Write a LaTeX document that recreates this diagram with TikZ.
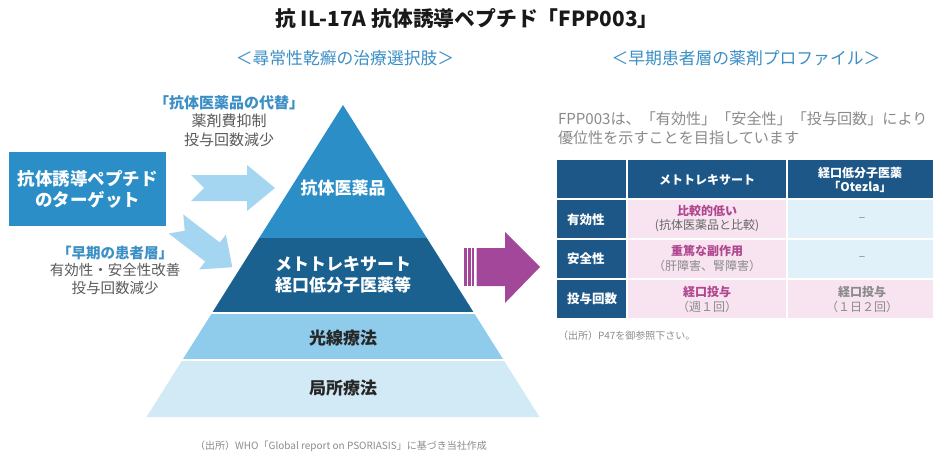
\documentclass[tikz,border=0pt]{standalone}
\usepackage{fontspec}
\setmainfont{Noto Sans CJK JP}
\definecolor{pyrTop}{HTML}{2B8EC6}
\definecolor{pyrDark}{HTML}{1B6190}
\definecolor{pyrLight}{HTML}{8FCBEB}
\definecolor{pyrPale}{HTML}{D2E9F6}
\definecolor{arrBlue}{HTML}{A5D6F1}
\definecolor{accBlue}{HTML}{3B8FC5}
\definecolor{txtGray}{HTML}{5A5A5A}
\definecolor{lightGray}{HTML}{8A8A8A}
\definecolor{tblDark}{HTML}{1D5788}
\definecolor{tblPink}{HTML}{F7E4F0}
\definecolor{tblBlue}{HTML}{E1F1FA}
\definecolor{magText}{HTML}{B0468F}
\definecolor{magArrow}{HTML}{A3479A}
\begin{document}
\begin{tikzpicture}[x=1pt,y=-1pt,
  every node/.style={inner sep=0pt,outer sep=0pt},
  titletxt/.style={font=\fontsize{20.8}{24}\selectfont\bfseries,text=black!90},
  subhead/.style={font=\fontsize{16.8}{20}\selectfont,text=accBlue},
  pyrwhite/.style={font=\fontsize{17}{20.5}\selectfont\bfseries,text=white,align=center},
  pyrdark/.style={font=\fontsize{17}{20.5}\selectfont\bfseries,text=black!85},
  sidelbl/.style={font=\fontsize{15}{18.5}\selectfont,text=txtGray,align=center},
  para/.style={font=\fontsize{15.1}{18.5}\selectfont,text=lightGray,align=left},
  thead/.style={font=\fontsize{12}{14.5}\selectfont\bfseries,text=white,align=center},
  rowlbl/.style={font=\fontsize{12.5}{15}\selectfont\bfseries,text=white},
  cellmag/.style={font=\fontsize{12}{15}\selectfont\bfseries,text=magText},
  cellgray/.style={font=\fontsize{12}{15}\selectfont,text=lightGray},
  cellgrayb/.style={font=\fontsize{12}{15}\selectfont\bfseries,text=lightGray},
  foot/.style={font=\fontsize{10}{12}\selectfont,text=black!45},
  gridline/.style={white,line width=1.3pt}
]
\useasboundingbox[fill=white] (0,0) rectangle (933,457);

% title and subheadings
\node[titletxt] (title) at (467,19) {抗 IL-17A 抗体誘導ペプチド「FPP003」};
\node[subhead] (subL) at (345,58) {＜尋常性乾癬の治療選択肢＞};
\node[subhead] (subR) at (746,58) {＜早期患者層の薬剤プロファイル＞};

% pyramid
\fill[pyrTop] (343,105) -- (426.8,238) -- (259.2,238) -- cycle;
\fill[pyrDark] (259.2,238) -- (426.8,238) -- (474,313) -- (212,313) -- cycle;
\fill[pyrLight] (212,313) -- (474,313) -- (503.6,360) -- (182.4,360) -- cycle;
\fill[pyrPale] (182.4,360) -- (503.6,360) -- (539.5,417) -- (146.5,417) -- cycle;
\draw[gridline,line width=1.5pt] (205,313) -- (481,313);
\draw[gridline,line width=1.5pt] (175,360) -- (511,360);

\node[pyrwhite] (lv1) at (343,188) {抗体医薬品};
\node[pyrwhite] (lv2) at (343,275) {メトトレキサート\\経口低分子医薬等};
\node[pyrdark] (lv3) at (343,338) {光線療法};
\node[pyrdark] (lv4) at (343,388) {局所療法};

% left box
\fill[pyrTop] (9,152) rectangle (166,226);
\node[pyrwhite,font=\fontsize{17.5}{21}\selectfont\bfseries] (target) at (87.5,189) {抗体誘導ペプチド\\のターゲット};

% light blue arrows
\fill[arrBlue] (191,175) -- (247,175) -- (247,165) -- (275,188) -- (247,211) -- (247,201) -- (191,201) -- (204,188) -- cycle;
\begin{scope}[shift={(176,224)},rotate=-37.5]
\fill[arrBlue] (0,-12) -- (46,-12) -- (46,-22) -- (71,0) -- (46,22) -- (46,12) -- (0,12) -- (11,0) -- cycle;
\end{scope}

% side labels
\node[sidelbl] (altL) at (229,121) {\textcolor{accBlue}{\bfseries 「抗体医薬品の代替」}\\薬剤費抑制\\投与回数減少};
\node[sidelbl,font=\fontsize{14.5}{17.5}\selectfont] (earlyL) at (115,270) {\textcolor{accBlue}{\bfseries 「早期の患者層」}\\有効性・安全性改善\\投与回数減少};

% magenta arrow
\fill[magArrow] (464.3,248) rectangle (466.7,286);
\fill[magArrow] (468.3,248) rectangle (470.7,286);
\fill[magArrow] (472.3,248) rectangle (474.3,286);
\fill[magArrow] (476.7,248) -- (505,248) -- (505,232) -- (540,267) -- (505,303) -- (505,286) -- (476.7,286) -- cycle;

% paragraph
\node[para,anchor=north west] (para) at (558,112) {FPP003は、「有効性」「安全性」「投与回数」により\\優位性を示すことを目指しています};

% table
\fill[tblDark] (557,160) rectangle (933,199);
\fill[tblDark] (557,199) rectangle (627,318);
\fill[tblPink] (627,199) rectangle (787,318);
\fill[tblBlue] (787,199) rectangle (933,279);
\fill[tblPink] (787,279) rectangle (933,318);
\draw[gridline] (627,160) -- (627,318);
\draw[gridline] (787,160) -- (787,318);
\draw[gridline] (557,199) -- (933,199);
\draw[gridline] (557,239) -- (933,239);
\draw[gridline] (557,279) -- (933,279);

\node[thead] (h2) at (707,180) {メトトレキサート};
\node[thead] (h3) at (860,180) {経口低分子医薬\\「Otezla」};
\node[rowlbl,anchor=west] (r1) at (567,220) {有効性};
\node[rowlbl,anchor=west] (r2) at (567,259) {安全性};
\node[rowlbl,anchor=west] (r3) at (567,299) {投与回数};

\node[cellmag] (c11a) at (707,211) {比較的低い};
\node[cellgray,text=black!60] (c11b) at (707,226) {(抗体医薬品と比較)};
\node[cellmag] (c21a) at (707,251) {重篤な副作用};
\node[cellgray] (c21b) at (707,266) {（肝障害、腎障害）};
\node[cellmag] (c31a) at (707,292) {経口投与};
\node[cellgray] (c31b) at (707,307) {（週１回）};
\node[cellgray] (c12) at (862,220) {–};
\node[cellgray] (c22) at (862,259) {–};
\node[cellgrayb] (c32a) at (862,292) {経口投与};
\node[cellgray] (c32b) at (862,307) {（１日２回）};

\node[foot,anchor=west] (foot1) at (558,336) {（出所）P47を御参照下さい。};
\node[foot] (foot2) at (341,446) {（出所）WHO「Global report on PSORIASIS」に基づき当社作成};
\end{tikzpicture}
\end{document}
